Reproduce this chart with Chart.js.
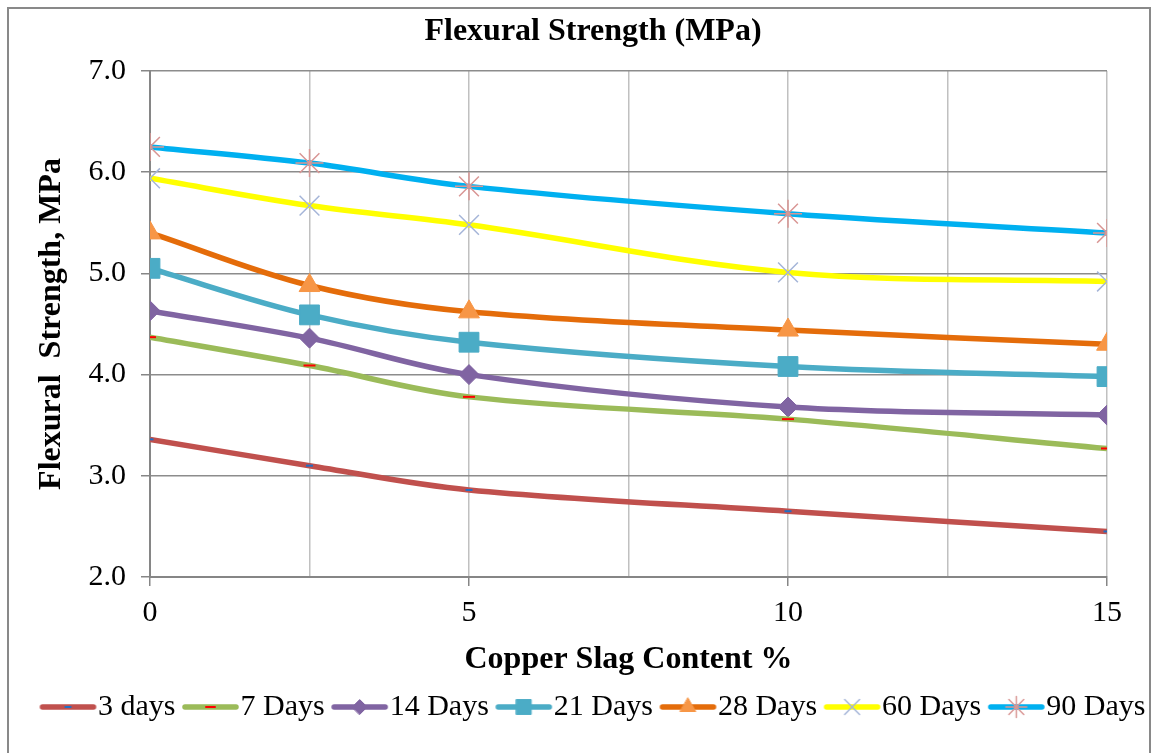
<!DOCTYPE html>
<html>
<head>
<meta charset="utf-8">
<title>Flexural Strength (MPa)</title>
<script src="https://cdn.jsdelivr.net/npm/chart.js@4/dist/chart.umd.min.js"></script>
<style>
    body { margin: 0; background: #fff; }
    #wrap { position: relative; width: 1153px; height: 753px; overflow: hidden; }
    #flexChart { position: absolute; left: 0; top: 0; }
    #frame { position: absolute; left: 7px; top: 7px; width: 1140px; height: 760px; border: 2px solid #898989; pointer-events: none; }
</style>
</head>
<body>
<div id="wrap">
    <canvas id="flexChart" width="1153" height="753"></canvas>
    <div id="frame"></div>
</div>
<script>
// Copper slag content (%) on the x axis
const contentPct = [0, 2.5, 5, 10, 15];

// Flexural strength (MPa) per curing age
const days3 = [3.36, 3.10, 2.86, 2.65, 2.45];
const days7 = [4.37, 4.09, 3.78, 3.56, 3.27];
const days14 = [4.63, 4.36, 4.00, 3.68, 3.60];
const days21 = [5.05, 4.59, 4.32, 4.08, 3.98];
const days28 = [5.40, 4.88, 4.62, 4.44, 4.30];
const days60 = [5.94, 5.67, 5.48, 5.01, 4.92];
const days90 = [6.25, 6.09, 5.86, 5.59, 5.40];

const seriesNames = ['3 days', '7 Days', '14 Days', '21 Days', '28 Days', '60 Days', '90 Days'];
const xTickLabels = [0, 5, 10, 15];

const FONT = '"Liberation Serif", "Times New Roman", serif';

function makeSeries(label, values, lineColor, marker) {
    return {
        label: label,
        data: contentPct.map((x, i) => ({ x: x, y: values[i] })),
        borderColor: lineColor,
        borderWidth: 5.5,
        tension: 0.35,
        fill: false,
        pointStyle: marker.style,
        pointRadius: marker.radius,
        pointHoverRadius: marker.radius,
        pointBackgroundColor: marker.fill,
        pointBorderColor: marker.stroke,
        pointBorderWidth: marker.width
    };
}

const datasets = [
    makeSeries(seriesNames[0], days3, '#C0504D', { style: 'line', radius: 3.5, fill: '#1F6FC5', stroke: '#1F6FC5', width: 2 }),
    makeSeries(seriesNames[1], days7, '#9BBB59', { style: 'line', radius: 6, fill: '#FF0000', stroke: '#FF0000', width: 2 }),
    makeSeries(seriesNames[2], days14, '#8064A2', { style: 'rectRot', radius: 10, fill: '#8064A2', stroke: '#8064A2', width: 1 }),
    makeSeries(seriesNames[3], days21, '#4BACC6', { style: 'rect', radius: 14, fill: '#4BACC6', stroke: '#4BACC6', width: 1 }),
    makeSeries(seriesNames[4], days28, '#E46C0A', { style: 'triangle', radius: 12, fill: '#F79646', stroke: '#F79646', width: 1 }),
    makeSeries(seriesNames[5], days60, '#FFFF00', { style: 'crossRot', radius: 14, fill: '#A5B5D8', stroke: '#A5B5D8', width: 1.5 }),
    makeSeries(seriesNames[6], days90, '#00B0F0', { style: 'star', radius: 14, fill: '#D99694', stroke: '#D99694', width: 1.5 })
];

// Legend symbol: line with the marker in the middle, like the Excel legend
function legendIcon(ds) {
    const c = document.createElement('canvas');
    c.width = 110;
    c.height = 28;
    const ctx = c.getContext('2d');
    ctx.strokeStyle = ds.borderColor;
    ctx.lineWidth = ds.borderWidth;
    ctx.lineCap = 'round';
    ctx.beginPath();
    ctx.moveTo(36, 14);
    ctx.lineTo(87, 14);
    ctx.stroke();
    ctx.fillStyle = ds.pointBackgroundColor;
    ctx.strokeStyle = ds.pointBorderColor;
    ctx.lineWidth = ds.pointBorderWidth;
    Chart.helpers.drawPoint(ctx, {
        pointStyle: ds.pointStyle,
        radius: ds.pointRadius * 0.75,
        borderWidth: ds.pointBorderWidth,
        rotation: 0
    }, 61.5, 14);
    return c;
}

new Chart(document.getElementById('flexChart'), {
    type: 'line',
    data: { datasets: datasets },
    options: {
        responsive: false,
        animation: false,
        devicePixelRatio: 1,
        layout: { padding: { left: 33, right: 0, top: 8, bottom: 21 } },
        plugins: {
            title: {
                display: true,
                text: 'Flexural Strength (MPa)',
                color: '#000',
                font: { family: FONT, size: 32, weight: 'bold' },
                padding: { top: 5, bottom: 19.6 }
            },
            legend: {
                position: 'bottom',
                align: 'start',
                labels: {
                    color: '#000',
                    font: { family: FONT, size: 30 },
                    usePointStyle: true,
                    pointStyleWidth: 43,
                    padding: 7,
                    generateLabels: function(chart) {
                        return chart.data.datasets.map((ds, i) => ({
                            text: ds.label,
                            datasetIndex: i,
                            pointStyle: legendIcon(ds),
                            rotation: 0,
                            fontColor: '#000',
                            lineWidth: 0,
                            hidden: false
                        }));
                    }
                }
            },
            tooltip: { enabled: false }
        },
        scales: {
            x: {
                type: 'linear',
                min: 0,
                max: 15,
                afterFit: function(scale) { scale.height = 108; },
                border: { color: '#868686', width: 2 },
                grid: {
                    color: '#c0c0c0',
                    lineWidth: 1.5,
                    tickLength: 9,
                    tickWidth: 1.5,
                    tickColor: function(ctx) {
                        return ctx.tick && xTickLabels.includes(ctx.tick.value) ? '#868686' : 'rgba(0,0,0,0)';
                    }
                },
                ticks: {
                    stepSize: 2.5,
                    autoSkip: false,
                    maxRotation: 0,
                    padding: 9,
                    color: '#000',
                    font: { family: FONT, size: 30 },
                    callback: function(v) { return xTickLabels.includes(v) ? String(v) : ''; }
                },
                title: {
                    display: true,
                    text: 'Copper Slag Content %',
                    color: '#000',
                    font: { family: FONT, size: 32, weight: 'bold' },
                    padding: { top: 0, bottom: 6 }
                }
            },
            y: {
                min: 2,
                max: 7,
                afterFit: function(scale) { scale.width = 117; },
                border: { color: '#868686', width: 2 },
                grid: { color: '#8c8c8c', lineWidth: 1.5, tickLength: 9, tickWidth: 1.5, tickColor: '#868686' },
                ticks: {
                    stepSize: 1,
                    padding: 15,
                    color: '#000',
                    font: { family: FONT, size: 30 },
                    callback: function(v) { return v.toFixed(1); }
                },
                title: {
                    display: true,
                    text: 'Flexural  Strength, MPa',
                    color: '#000',
                    font: { family: FONT, size: 32, weight: 'bold' },
                    padding: { top: 0, bottom: 0 }
                }
            },
            // empty right box so the plot ends where the original does
            yRight: {
                type: 'linear',
                position: 'right',
                afterFit: function(scale) { scale.width = 46; },
                grid: { display: false },
                border: { display: false },
                ticks: { display: false }
            }
        }
    }
});
</script>
</body>
</html>
